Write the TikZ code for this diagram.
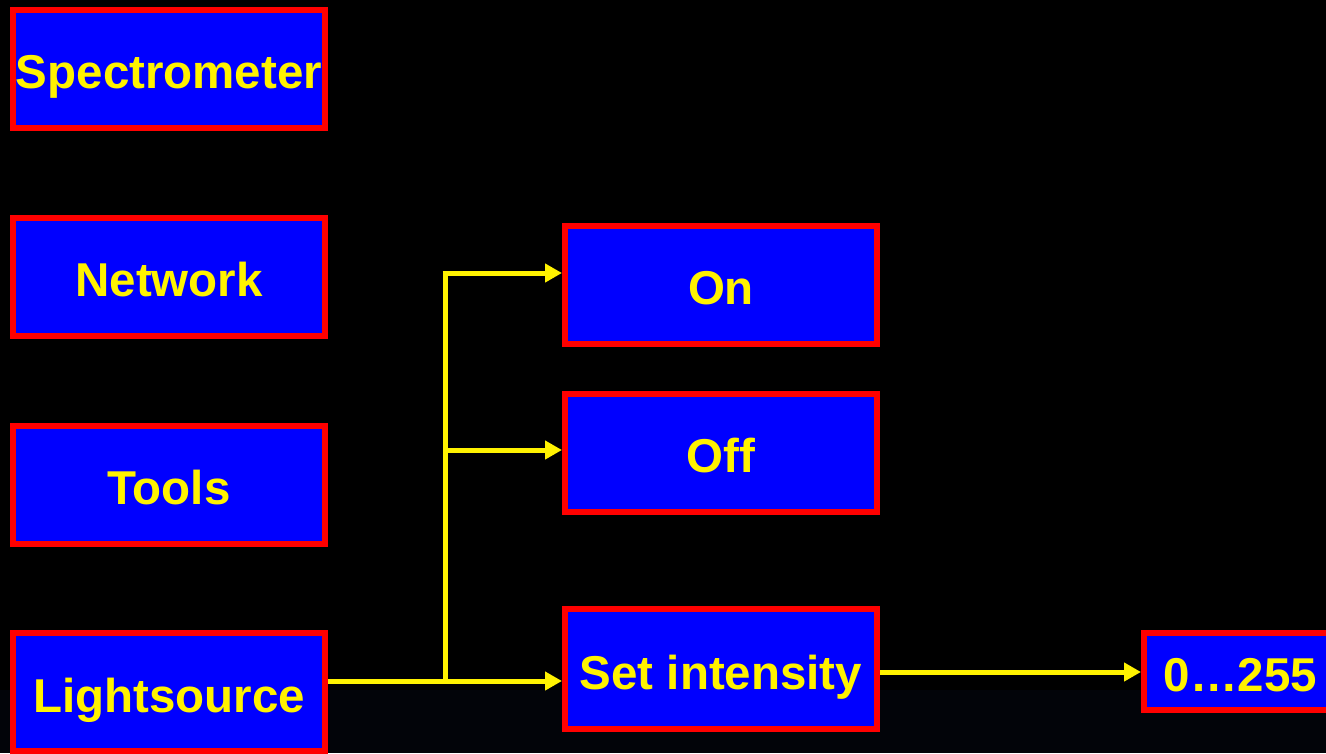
\documentclass[tikz,border=0pt]{standalone}
\usepackage{fontspec}
\setmainfont{Liberation Sans}
\usetikzlibrary{arrows.meta}
\definecolor{bgbot}{RGB}{2,4,9}
\tikzset{
  menubox/.style={draw=red, fill=blue, line width=6pt, inner sep=0pt,
    text=yellow, font=\fontsize{47.5}{52}\selectfont\bfseries,
    text height=40pt, text depth=0pt,
    minimum width=312pt, minimum height=118pt},
  link/.style={draw=yellow, line width=5pt},
  arr/.style={link, -{Triangle[length=17pt,width=18pt]}}
}
\begin{document}
\begin{tikzpicture}[x=1pt,y=-1pt]
\fill[black] (0,0) rectangle (1326,753);
\fill[bgbot] (0,690) rectangle (1326,753);
\useasboundingbox (0,0) rectangle (1326,753);
\node[menubox] (spec) at (169,68.5) {Spectrometer};
\node[menubox] (net) at (169,276.5) {Network};
\node[menubox] (tools) at (169,484.5) {Tools};
\node[menubox] (light) at (169,692) {Lightsource};
\node[menubox] (on) at (721,284.5) {On};
\node[menubox] (off) at (721,452.5) {Off};
\node[menubox, minimum height=120pt] (seti) at (721,669) {Set intensity};
\node[menubox, minimum width=193pt, minimum height=77pt, text height=39pt] (range) at (1240.5,671.5) {0…255};
\coordinate (j) at (445,681);
\coordinate (jon) at (445,273);
\coordinate (joff) at (445,450);
\coordinate (k) at (880,672);
\draw[link] (j -| light.east) -- (j);
\draw[link] ([yshift=-2.5pt]jon) -- ([yshift=2.5pt]j);
\draw[arr] ([xshift=-2.5pt]jon) -- (jon -| on.west);
\draw[arr] (joff) -- (joff -| off.west);
\draw[arr] (j) -- (j -| seti.west);
\draw[arr] (k -| seti.east) -- (k -| range.west);
\end{tikzpicture}
\end{document}
